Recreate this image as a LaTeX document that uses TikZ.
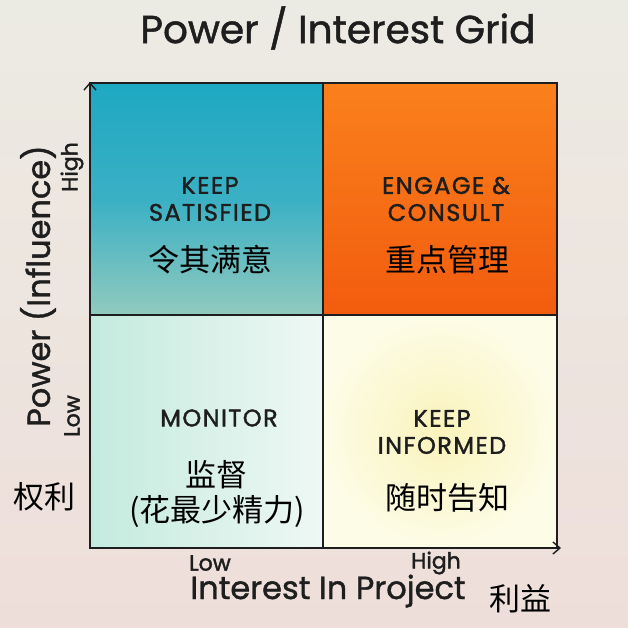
\documentclass[tikz,border=0pt]{standalone}
\usepackage{fontspec}
\setmainfont{Poppins}
\newfontfamily\hand[FakeBold=1.2]{Poppins}
\newfontfamily\handtick[FakeBold=1.8]{Poppins}
\newfontfamily\handlab[FakeBold=1.6,LetterSpace=6]{Poppins}
\newfontfamily\cjk{Noto Sans CJK SC}
\usetikzlibrary{arrows.meta}
\definecolor{bgtop}{RGB}{236,235,227}
\definecolor{bgbot}{RGB}{238,222,218}
\definecolor{tltop}{RGB}{30,168,194}
\definecolor{tlmid}{RGB}{58,176,196}
\definecolor{tlbot}{RGB}{145,202,190}
\definecolor{trtop}{RGB}{250,128,28}
\definecolor{trbot}{RGB}{242,92,14}
\definecolor{blleft}{RGB}{196,234,222}
\definecolor{blright}{RGB}{238,248,244}
\definecolor{brin}{RGB}{250,243,188}
\definecolor{brout}{RGB}{253,252,230}
\definecolor{ink}{RGB}{30,30,30}
\tikzset{
  quad/.style={draw=ink, line width=1.3pt},
  lab/.style={text=ink, font=\handlab\fontsize{24}{28}\selectfont, align=center, inner sep=0pt},
  zh/.style={text=black, font=\cjk\fontsize{31}{36}\selectfont, align=center, inner sep=0pt},
  axlab/.style={text=ink, font=\hand\fontsize{32}{36}\selectfont, inner sep=0pt},
  tick/.style={text=ink, font=\handtick\fontsize{22}{24}\selectfont, inner sep=0pt},
  axis/.style={draw=ink, line width=1.5pt, -{Straight Barb[length=7pt,width=12pt,line width=1.4pt]}}
}
\begin{document}
\begin{tikzpicture}[x=1pt,y=-1pt]
\useasboundingbox (0,0) rectangle (628,628);
\shade[top color=bgtop, bottom color=bgbot] (0,0) rectangle (628,628);
% quadrants
\shade[top color=tltop, bottom color=tlbot, middle color=tlmid] (90,83) rectangle (323,315);
\shade[top color=trtop, bottom color=trbot] (323,83) rectangle (557,315);
\shade[left color=blleft, right color=blright] (90,315) rectangle (323,548);
\shade[inner color=brin, outer color=brout] (323,315) rectangle (557,548);
\draw[quad] (90,83) rectangle (323,315);
\draw[quad] (323,83) rectangle (557,315);
\draw[quad] (90,315) rectangle (323,548);
\draw[quad] (323,315) rectangle (557,548);
% axes
\coordinate (origin) at (90,548);
\coordinate (ytip) at (90,82);
\coordinate (xtip) at (561,548);
\draw[axis] (origin) -- (ytip);
\draw[axis] (origin) -- (xtip);
% title
\node[text=ink, font=\hand\fontsize{39}{44}\selectfont, inner sep=0pt] (title) at (338,28) {Power / Interest Grid};
% quadrant labels
\node[lab] (ks) at (210,199) {KEEP\\[-1pt]SATISFIED};
\node[zh] (ksz) at (210,260) {令其满意};
\node[lab] (ec) at (446,199) {ENGAGE \&\\[-1pt]CONSULT};
\node[zh] (ecz) at (447,260) {重点管理};
\node[lab] (mo) at (219,418) {MONITOR};
\node[zh] (moz) at (216,475) {监督};
\node[zh] (moz2) at (217,512) {(花最少精力)};
\node[lab] (ki) at (442,432) {KEEP\\[-1pt]INFORMED};
\node[zh] (kiz) at (447,498) {随时告知};
% axis labels
\node[axlab, rotate=90] (ylab) at (38,286) {Power (Influence)};
\node[tick, rotate=90] (yhigh) at (72,167) {High};
\node[tick, rotate=90] (ylow) at (72,416) {Low};
\node[zh] (yzh) at (44,497) {权利};
\node[tick] (xlow) at (210,563) {Low};
\node[tick] (xhigh) at (436,563) {High};
\node[axlab] (xlab) at (328,591) {Interest In Project};
\node[zh] (xzh) at (520,599) {利益};
\end{tikzpicture}
\end{document}
